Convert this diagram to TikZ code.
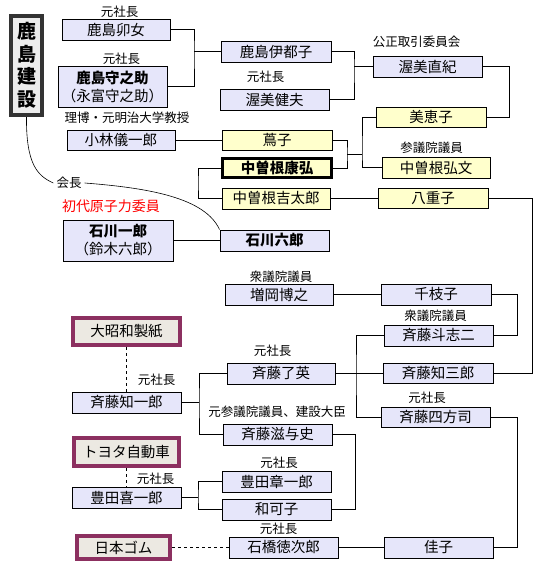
\documentclass[tikz,border=0pt]{standalone}
\usepackage{fontspec}
\setmainfont{Noto Sans CJK JP}
\definecolor{lav}{RGB}{230,230,250}
\definecolor{yel}{RGB}{255,255,204}
\definecolor{cofill}{RGB}{236,233,226}
\definecolor{codraw}{RGB}{140,48,96}
\definecolor{kjfill}{RGB}{236,236,236}
\definecolor{kjdraw}{RGB}{51,51,51}
\newcommand\boxfont{\fontsize{14.5}{18}\selectfont}
\newcommand\lblfont{\fontsize{12.5}{14}\selectfont}
\tikzset{
  box/.style={draw=black, line width=0.9pt, inner sep=0pt, fill=lav, font=\boxfont,
              minimum width=109pt, minimum height=21pt, align=center},
  ybox/.style={box, fill=yel},
  cobox/.style={box, fill=cofill, draw=codraw, line width=4pt},
  lbl/.style={inner sep=1pt, font=\lblfont},
  conn/.style={line width=0.9pt},
  dconn/.style={line width=0.9pt, dash pattern=on 3pt off 3pt},
}
\begin{document}
\begin{tikzpicture}[x=1pt,y=-1pt]
\useasboundingbox (0,0) rectangle (547,574);
% company boxes
\node[box, fill=kjfill, draw=kjdraw, line width=4pt, minimum width=31pt, minimum height=99pt,
      font=\fontsize{19}{22.5}\selectfont\bfseries] (kajima) at (26.5,65.5) {鹿\\島\\建\\設};
\node[cobox, minimum width=107pt, minimum height=27pt] (daishowa) at (126.5,331.5) {大昭和製紙};
\node[cobox, minimum width=105pt, minimum height=28pt] (toyota) at (126.5,452) {トヨタ自動車};
\node[cobox, minimum width=93pt, minimum height=23pt] (nihongomu) at (123.5,547.5) {日本ゴム};
% person boxes
\node[box, minimum width=108pt] (uno) at (116,29.5) {鹿島卯女};
\node[box, minimum height=41pt] (morinosuke) at (112.5,86.5) {\textbf{鹿島守之助}\\（永富守之助）};
\node[box, minimum width=108pt, minimum height=20pt] (kobayashi) at (121,140) {小林儀一郎};
\node[box, minimum width=110pt] (itsuko) at (276,51.5) {鹿島伊都子};
\node[box] (takeo) at (274.5,99.5) {渥美健夫};
\node[box] (naoki) at (427.5,66.5) {渥美直紀};
\node[ybox, minimum width=110pt, minimum height=20pt] (mieko) at (431,117) {美恵子};
\node[ybox, minimum width=110pt, minimum height=20pt] (tsutako) at (277,140) {蔦子};
\node[ybox, line width=3pt, minimum width=109pt, minimum height=19pt, font=\boxfont\bfseries] (yasuhiro) at (277,168) {中曽根康弘};
\node[ybox, minimum width=108pt] (hirofumi) at (436,167.5) {中曽根弘文};
\node[ybox, minimum width=108pt] (kichitaro) at (276,198.5) {中曽根吉太郎};
\node[ybox, minimum width=110pt, minimum height=20pt] (yaeko) at (433,198.5) {八重子};
\node[box, font=\boxfont\bfseries] (ishikawa6) at (274.5,240.5) {石川六郎};
\node[box, minimum width=110pt, minimum height=41pt] (ishikawa1) at (118,240.5) {\textbf{石川一郎}\\（鈴木六郎）};
\node[box, minimum width=108pt] (masuoka) at (279,294.5) {増岡博之};
\node[box, minimum width=110pt] (chieko) at (436,294.5) {千枝子};
\node[box] (toshiji) at (438.5,335.5) {斉藤斗志二};
\node[box, minimum width=110pt, minimum height=20pt] (tomosaburo) at (438,373.5) {斉藤知三郎};
\node[box, minimum height=20pt] (yomoji) at (435.5,417) {斉藤四方司};
\node[box] (tomoichiro) at (126.5,402.5) {斉藤知一郎};
\node[box, minimum width=108pt] (ryoei) at (281,373.5) {斉藤了英};
\node[box] (shigeyoshi) at (277.5,434.5) {斉藤滋与史};
\node[box] (kiichiro) at (126.5,497.5) {豊田喜一郎};
\node[box] (shoichiro) at (276.5,481.5) {豊田章一郎};
\node[box] (wakako) at (276.5,509.5) {和可子};
\node[box] (ishibashi) at (283.5,547.5) {石橋徳次郎};
\node[box] (yoshiko) at (438.5,547.5) {佳子};
% labels
\node[lbl] (l1) at (119.5,12) {元社長};
\node[lbl] (l2) at (121.5,59) {元社長};
\node[lbl] (l3) at (127,118) {理博・元明治大学教授};
\node[lbl] (l4) at (265.5,77) {元社長};
\node[lbl] (l5) at (416.5,42) {公正取引委員会};
\node[lbl] (l6) at (431.5,148) {参議院議員};
\node[lbl, inner sep=3pt] (kaicho) at (69,183) {会長};
\node[lbl, text=red, font=\fontsize{14}{16}\selectfont] (l7) at (111,206) {初代原子力委員};
\node[lbl] (l8) at (281,277) {衆議院議員};
\node[lbl] (l9) at (435.5,316) {衆議院議員};
\node[lbl] (l10) at (427,398) {元社長};
\node[lbl] (l11) at (272.5,351) {元社長};
\node[lbl] (l12) at (156.5,380) {元社長};
\node[lbl] (l13) at (277,412) {元参議院議員、建設大臣};
\node[lbl] (l14) at (155.5,479) {元社長};
\node[lbl] (l15) at (279,463) {元社長};
\node[lbl] (l16) at (278.5,529) {元社長};
% junction coordinates
\coordinate (j1) at (194,51.5);
\coordinate (j2) at (354,66.5);
\coordinate (c509) at (509,117);
\coordinate (j3) at (347,154);
\coordinate (j4) at (362,154);
\coordinate (c198) at (198,183);
\coordinate (c532) at (532,373.5);
\coordinate (c517a) at (517,335.5);
\coordinate (j5) at (356,373.5);
\coordinate (c517b) at (517,547.5);
\coordinate (j6) at (199,402.5);
\coordinate (c355) at (355,509.5);
\coordinate (j7) at (198,497.5);
% connectors
\draw[conn] (uno.east) -| (j1) |- (morinosuke.east);
\draw[conn] (j1) -- (itsuko.west);
\draw[conn] (itsuko.east) -| (j2) |- (takeo.east);
\draw[conn] (j2) -- (naoki.west);
\draw[conn] (naoki.east) -| (c509) -- (mieko.east);
\draw[conn] (kobayashi.east) -- (tsutako.west);
\draw[conn] (tsutako.east) -| (j3) |- (yasuhiro.east);
\draw[conn] (j3) -- (j4);
\draw[conn] (mieko.west) -| (j4) |- (hirofumi.west);
\draw[conn] (yasuhiro.west) -| (c198) |- (kichitaro.west);
\draw[conn] (kichitaro.east) -- (yaeko.west);
\draw[conn] (yaeko.east) -| (c532) -- (tomosaburo.east);
\draw[conn] (ishikawa1.east) -- (ishikawa6.west);
\draw[conn] (masuoka.east) -- (chieko.west);
\draw[conn] (chieko.east) -| (c517a) -- (toshiji.east);
\draw[conn] (ryoei.east) -- (tomosaburo.west);
\draw[conn] (toshiji.west) -| (j5) |- (yomoji.west);
\draw[conn] (yomoji.east) -| (c517b) -- (yoshiko.east);
\draw[dconn] (daishowa.south) -- (tomoichiro.north);
\draw[conn] (tomoichiro.east) -- (j6);
\draw[conn] (ryoei.west) -| (j6) |- (shigeyoshi.west);
\draw[conn] (shigeyoshi.east) -| (c355) -- (wakako.east);
\draw[dconn] (toyota.south) -- (kiichiro.north);
\draw[conn] (kiichiro.east) -- (j7);
\draw[conn] (shoichiro.west) -| (j7) |- (wakako.west);
\draw[dconn] (nihongomu.east) -- (ishibashi.west);
\draw[conn] (ishibashi.east) -- (yoshiko.west);
\draw[line width=0.6pt] (kajima.south) .. controls (26,165) and (38,176) .. (kaicho.west);
\draw[line width=0.6pt] (kaicho.east) .. controls (150,188) and (205,198) .. (ishikawa6.north west);
\end{tikzpicture}
\end{document}
